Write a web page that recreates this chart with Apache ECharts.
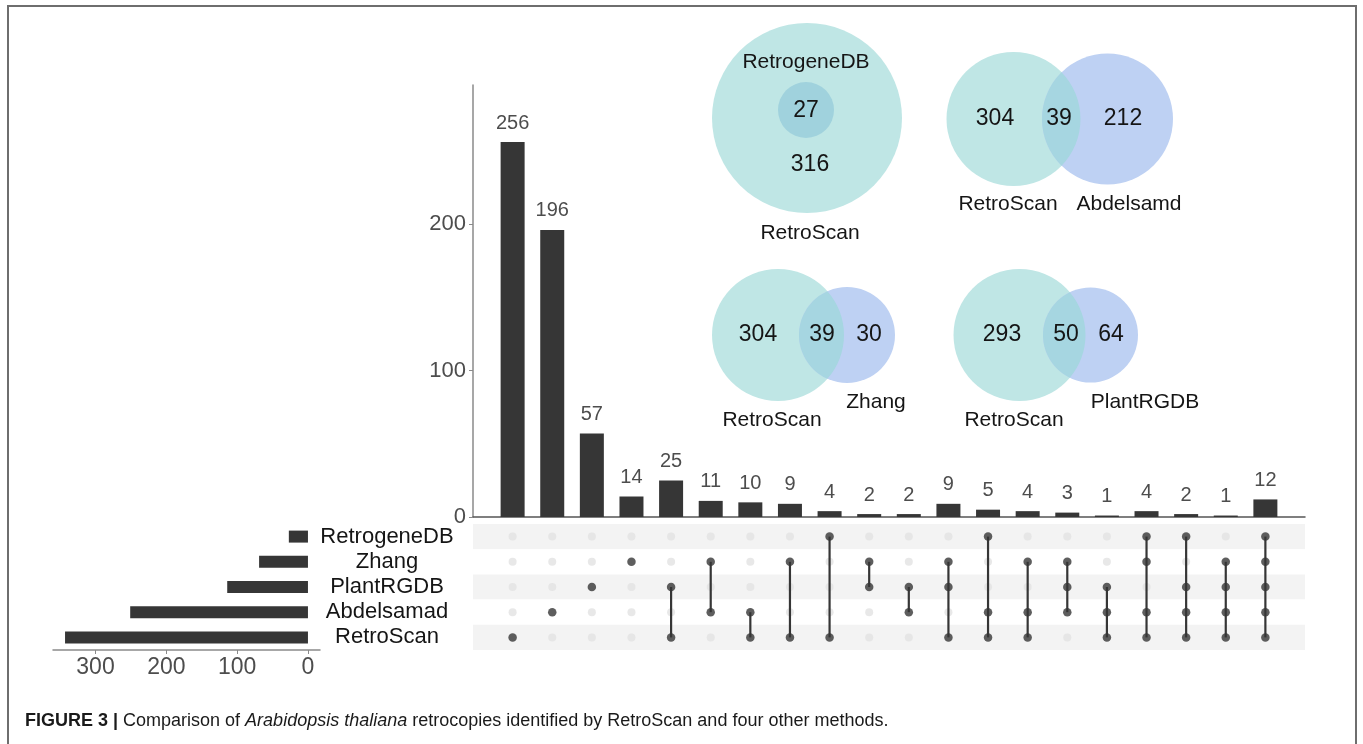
<!DOCTYPE html>
<html>
<head>
<meta charset="utf-8">
<script src="https://cdn.jsdelivr.net/npm/echarts@6/dist/echarts.min.js"></script>
<style>
  html, body { margin: 0; padding: 0; background: #ffffff; }
  #chart { width: 1363px; height: 744px; }
</style>
</head>
<body>
<div id="chart"></div>
<script>
// ---- data ---------------------------------------------------------------
// Size of every intersection, one per matrix column (left to right)
const intersectionSizes = [256, 196, 57, 14, 25, 11, 10, 9, 4, 2, 2, 9, 5, 4, 3, 1, 4, 2, 1, 12];
// Methods that share each intersection
const intersectionMembers = [
  ['RetroScan'], ['Abdelsamad'], ['PlantRGDB'], ['Zhang'],
  ['PlantRGDB', 'RetroScan'], ['Zhang', 'Abdelsamad'], ['Abdelsamad', 'RetroScan'], ['Zhang', 'RetroScan'],
  ['RetrogeneDB', 'RetroScan'], ['Zhang', 'PlantRGDB'], ['PlantRGDB', 'Abdelsamad'],
  ['Zhang', 'PlantRGDB', 'RetroScan'], ['RetrogeneDB', 'Abdelsamad', 'RetroScan'],
  ['Zhang', 'Abdelsamad', 'RetroScan'], ['Zhang', 'PlantRGDB', 'Abdelsamad'],
  ['PlantRGDB', 'Abdelsamad', 'RetroScan'],
  ['RetrogeneDB', 'Zhang', 'Abdelsamad', 'RetroScan'],
  ['RetrogeneDB', 'PlantRGDB', 'Abdelsamad', 'RetroScan'],
  ['Zhang', 'PlantRGDB', 'Abdelsamad', 'RetroScan'],
  ['RetrogeneDB', 'Zhang', 'PlantRGDB', 'Abdelsamad', 'RetroScan']
];
// Methods (matrix rows, top to bottom) and their total sizes
const setNames = ['RetrogeneDB', 'Zhang', 'PlantRGDB', 'Abdelsamad', 'RetroScan'];
const setSizes = [27, 69, 114, 251, 343];
// Tick labels
const intersectionTicks = [0, 100, 200];
const setSizeTicks = [0, 100, 200, 300];
// Pairwise comparisons of RetroScan with each other method
const vennOthers = ['RetrogeneDB', 'Abdelsamd', 'Zhang', 'PlantRGDB'];
const vennRetroScanOnly = [316, 304, 304, 293];
const vennShared = [27, 39, 39, 50];
const vennOtherOnly = [0, 212, 30, 64];

// ---- layout & style -----------------------------------------------------
const FONT = '"Liberation Sans", Arial, Helvetica, sans-serif';
const DARK = '#363636';
const TEAL = '#bfe6e5';
const BLUE = '#bed1f3';
const LENS = '#a6d6e1';
const NESTED = '#a0d2dd';

// circle centres/radii and text anchors of the four Venn panels
const vennLayout = [
  { a: [807, 118, 95], b: [806, 110, 28], numA: [810, 165], numS: [806, 111], numB: null, la: [810, 233], lb: [806, 62] },
  { a: [1013.5, 119, 67], b: [1107.5, 119, 65.5], numA: [995, 119], numS: [1059, 119], numB: [1123, 119], la: [1008, 204], lb: [1129, 204] },
  { a: [778, 335, 66], b: [847, 335, 48], numA: [758, 335], numS: [822, 335], numB: [869, 335], la: [772, 420], lb: [876, 402] },
  { a: [1019.5, 335, 66], b: [1090.5, 335, 47.5], numA: [1002, 335], numS: [1066, 335], numB: [1111, 335], la: [1014, 420], lb: [1145, 402] }
];

const cols = intersectionSizes.map((_, i) => i + 1);

// dots of the membership matrix
const activeDots = [];
const inactiveDots = [];
intersectionMembers.forEach((members, i) => {
  setNames.forEach(name => {
    (members.includes(name) ? activeDots : inactiveDots).push([cols[i], name]);
  });
});
// connectors: from the top-most to the bottom-most member of each column
const connectors = intersectionMembers
  .map((members, i) => {
    const rows = members.map(m => setNames.indexOf(m));
    return [cols[i], Math.min(...rows), Math.max(...rows), members.length];
  })
  .filter(d => d[3] > 1);

function lensPath(ax, ay, ra, bx, rb) {
  const d = bx - ax;
  const x = (d * d + ra * ra - rb * rb) / (2 * d);
  const h = Math.sqrt(ra * ra - x * x);
  const px = ax + x;
  return `M ${px} ${ay - h} A ${ra} ${ra} 0 0 1 ${px} ${ay + h} A ${rb} ${rb} 0 0 1 ${px} ${ay - h} Z`;
}

function vennText(x, y, text, size) {
  return {
    type: 'text',
    style: { x, y, text: String(text), fill: '#151515', font: `${size}px ${FONT}`, align: 'center', verticalAlign: 'middle' }
  };
}

function renderVenn(params, api) {
  const i = params.dataIndex;
  const L = vennLayout[i];
  const onlyA = api.value(0), shared = api.value(1), onlyB = api.value(2);
  const children = [
    { type: 'circle', shape: { cx: L.a[0], cy: L.a[1], r: L.a[2] }, style: { fill: TEAL } }
  ];
  if (onlyB === 0) {
    // the other method lies completely inside RetroScan
    children.push({ type: 'circle', shape: { cx: L.b[0], cy: L.b[1], r: L.b[2] }, style: { fill: NESTED } });
  } else {
    children.push({ type: 'circle', shape: { cx: L.b[0], cy: L.b[1], r: L.b[2] }, style: { fill: BLUE } });
    children.push({ type: 'path', shape: { pathData: lensPath(L.a[0], L.a[1], L.a[2], L.b[0], L.b[2]) }, style: { fill: LENS } });
  }
  children.push(vennText(L.numA[0], L.numA[1], onlyA, 23));
  children.push(vennText(L.numS[0], L.numS[1], shared, 23));
  if (L.numB) children.push(vennText(L.numB[0], L.numB[1], onlyB, 23));
  children.push(vennText(L.la[0], L.la[1], 'RetroScan', 21));
  children.push(vennText(L.lb[0], L.lb[1], vennOthers[i], 21));
  return { type: 'group', children };
}

const chart = echarts.init(document.getElementById('chart'), null, { renderer: 'canvas' });

const option = {
  backgroundColor: '#ffffff',
  animation: false,
  textStyle: { fontFamily: FONT },
  grid: [
    { left: 473, right: 58, top: 85, bottom: 227 },   // intersection sizes
    { left: 473, right: 58, top: 524, bottom: 94 },   // membership matrix
    { left: 53, width: 267, top: 524, bottom: 94 }    // set sizes
  ],
  xAxis: [
    {
      gridIndex: 0, type: 'value', min: 0, max: 21,
      axisLine: { show: true, onZero: false, lineStyle: { color: '#555', width: 1.5 } },
      axisTick: { show: false }, axisLabel: { show: false }, splitLine: { show: false }
    },
    {
      gridIndex: 1, type: 'value', min: 0, max: 21, show: false
    },
    {
      gridIndex: 2, type: 'value', inverse: true, min: -17, max: 360,
      axisLine: { show: true, onZero: false, lineStyle: { color: '#8a8a8a', width: 1.5 } },
      axisTick: { show: true, length: 4, customValues: setSizeTicks, lineStyle: { color: '#8a8a8a' } },
      axisLabel: { customValues: setSizeTicks, color: '#4d4d4d', fontSize: 23, margin: 6, fontFamily: FONT },
      splitLine: { show: false }
    }
  ],
  yAxis: [
    {
      gridIndex: 0, type: 'value', min: 0, max: 295,
      axisLine: { show: true, lineStyle: { color: '#8a8a8a', width: 1.5 } },
      axisTick: { show: true, length: 4, customValues: intersectionTicks, lineStyle: { color: '#8a8a8a' } },
      axisLabel: { customValues: intersectionTicks, color: '#4d4d4d', fontSize: 22, margin: 7, fontFamily: FONT },
      splitLine: { show: false }
    },
    {
      gridIndex: 1, type: 'category', data: setNames, inverse: true,
      axisLine: { show: false }, axisTick: { show: false, interval: 0 },
      axisLabel: { interval: 0, color: '#151515', fontSize: 22, align: 'center', margin: 86, fontFamily: FONT },
      splitArea: { show: true, interval: 0, areaStyle: { color: ['#f3f3f3', '#ffffff'] } }
    },
    {
      gridIndex: 2, type: 'category', data: setNames, inverse: true, show: false
    }
  ],
  series: [
    {
      name: 'Intersection size', type: 'bar', xAxisIndex: 0, yAxisIndex: 0,
      data: intersectionSizes.map((v, i) => [cols[i], v]),
      barWidth: 24,
      itemStyle: { color: DARK },
      label: { show: true, position: 'top', distance: 9, color: '#4d4d4d', fontSize: 20, fontFamily: FONT,
               formatter: p => p.value[1] }
    },
    {
      name: 'absent', type: 'scatter', xAxisIndex: 1, yAxisIndex: 1,
      data: inactiveDots, symbolSize: 8, itemStyle: { color: '#e2e2e2' }
    },
    {
      name: 'connector', type: 'custom', xAxisIndex: 1, yAxisIndex: 1,
      data: connectors,
      renderItem: (params, api) => {
        const p1 = api.coord([api.value(0), api.value(1)]);
        const p2 = api.coord([api.value(0), api.value(2)]);
        return { type: 'line', shape: { x1: p1[0], y1: p1[1], x2: p2[0], y2: p2[1] },
                 style: { stroke: DARK, lineWidth: 2.2 } };
      },
      z: 3
    },
    {
      name: 'present', type: 'scatter', xAxisIndex: 1, yAxisIndex: 1,
      data: activeDots, symbolSize: 8.5, itemStyle: { color: DARK }, z: 4
    },
    {
      name: 'Set size', type: 'bar', xAxisIndex: 2, yAxisIndex: 2,
      data: setSizes, barWidth: 12, itemStyle: { color: DARK }
    },
    {
      name: 'Venn', type: 'custom', coordinateSystem: 'none',
      data: vennOthers.map((_, i) => [vennRetroScanOnly[i], vennShared[i], vennOtherOnly[i]]),
      renderItem: renderVenn,
      z: 5
    }
  ],
  graphic: [
    // figure frame
    { type: 'polyline', shape: { points: [[8, 744], [8, 6], [1356, 6], [1356, 744]] },
      style: { stroke: '#6e6e6e', lineWidth: 2, fill: null }, silent: true },
    // caption
    {
      type: 'text', left: 25, top: 712,
      style: {
        text: '{b|FIGURE 3 | }{n|Comparison of }{i|Arabidopsis thaliana}{n| retrocopies identified by RetroScan and four other methods.}',
        rich: {
          b: { fontFamily: FONT, fontSize: 18, fontWeight: 'bold', fill: '#1a1a1a' },
          n: { fontFamily: FONT, fontSize: 18, fill: '#1a1a1a' },
          i: { fontFamily: FONT, fontSize: 18, fontStyle: 'italic', fill: '#1a1a1a' }
        }
      }
    }
  ]
};

chart.setOption(option);
</script>
</body>
</html>
